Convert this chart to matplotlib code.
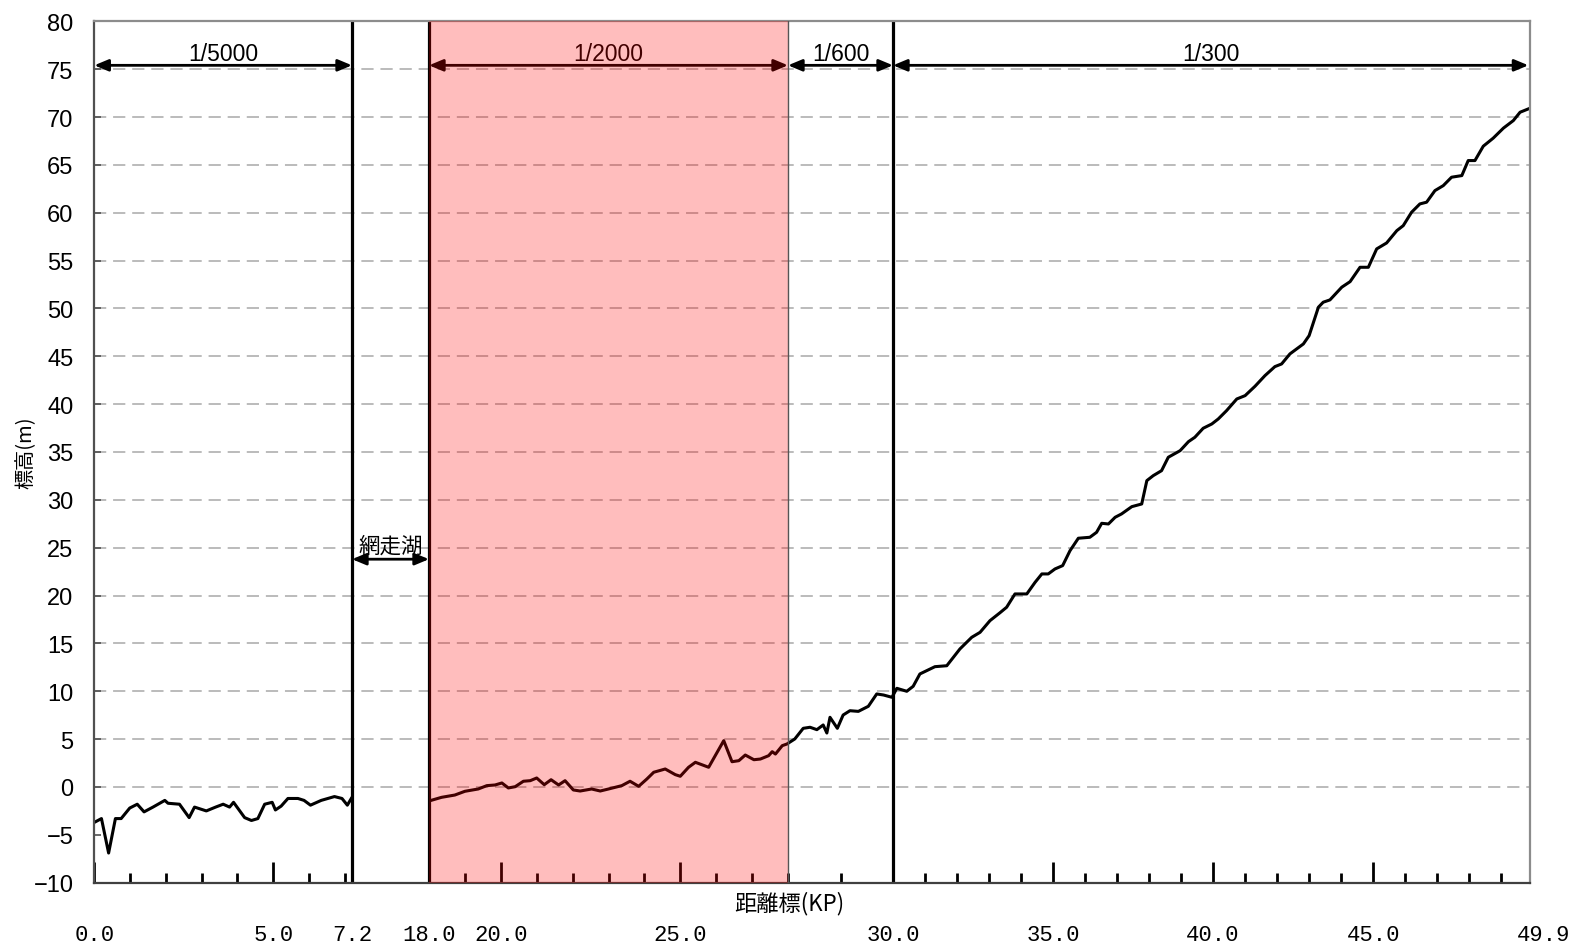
import numpy as np
import matplotlib
matplotlib.use("Agg")
import matplotlib.pyplot as plt
from matplotlib.transforms import ScaledTranslation

# 距離標(KP) と 標高(m) : 網走湖より下流側
KP_LOWER = [0.0, 0.2, 0.4, 0.59, 0.75, 0.99, 1.2, 1.39, 1.64, 1.97, 2.06, 2.38,
            2.65, 2.8, 3.13, 3.39, 3.6, 3.78, 3.89, 4.2, 4.39, 4.57, 4.76, 4.97,
            5.06, 5.22, 5.41, 5.69, 5.86, 6.04, 6.34, 6.71, 6.92, 7.07, 7.18]
Z_LOWER = [-3.7, -3.3, -6.9, -3.3, -3.3, -2.2, -1.8, -2.6, -2.1, -1.4, -1.7, -1.8,
           -3.2, -2.1, -2.5, -2.1, -1.8, -2.1, -1.6, -3.2, -3.5, -3.3, -1.8, -1.6,
           -2.4, -2.0, -1.2, -1.2, -1.4, -1.9, -1.4, -1.0, -1.2, -1.9, -1.2]

# 網走湖より上流側
KP_UPPER = [18.03, 18.35, 18.72, 19.0, 19.37, 19.61, 19.84, 20.03, 20.21, 20.4,
            20.63, 20.82, 21.0, 21.21, 21.4, 21.61, 21.79, 22.02, 22.21, 22.53,
            22.77, 23.0, 23.37, 23.6, 23.84, 24.07, 24.26, 24.58, 24.86, 25.0,
            25.23, 25.42, 25.79, 26.21, 26.44, 26.63, 26.81, 27.05, 27.23, 27.46,
            27.56, 27.65, 27.84, 27.97, 28.13, 28.29, 28.42, 28.55, 28.67, 28.74,
            28.8, 28.94, 29.05, 29.18, 29.34, 29.53, 29.69, 29.82, 29.98, 30.12,
            30.43, 30.63, 30.84, 31.05, 31.31, 31.68, 32.09, 32.46, 32.72, 33.03,
            33.34, 33.55, 33.81, 34.18, 34.44, 34.65, 34.85, 35.06, 35.3, 35.53,
            35.79, 36.15, 36.36, 36.52, 36.73, 36.94, 37.14, 37.46, 37.77, 37.93,
            38.13, 38.39, 38.6, 38.97, 39.23, 39.43, 39.69, 39.96, 40.16, 40.42,
            40.74, 41.0, 41.31, 41.62, 41.93, 42.14, 42.4, 42.82, 43.0, 43.29,
            43.44, 43.65, 44.02, 44.28, 44.59, 44.85, 45.11, 45.42, 45.74, 45.94,
            46.2, 46.46, 46.67, 46.93, 47.19, 47.45, 47.77, 47.97, 48.18, 48.44,
            48.75, 49.07, 49.38, 49.59, 49.85]
Z_UPPER = [-1.43, -1.08, -0.84, -0.45, -0.21, 0.14, 0.21, 0.42, -0.1, 0.03,
           0.6, 0.66, 0.94, 0.24, 0.76, 0.21, 0.66, -0.31, -0.42, -0.21,
           -0.42, -0.21, 0.14, 0.6, 0.07, 0.84, 1.54, 1.88, 1.29, 1.12,
           2.06, 2.58, 2.06, 4.84, 2.64, 2.75, 3.34, 2.85, 2.92, 3.27,
           3.69, 3.44, 4.32, 4.49, 5.02, 6.13, 6.24, 5.99, 6.48, 5.64,
           7.28, 6.13, 7.52, 7.97, 7.9, 8.43, 9.72, 9.61, 9.37, 10.31,
           10.0, 10.52, 11.81, 12.15, 12.57, 12.67, 14.42, 15.64, 16.16, 17.38,
           18.2, 18.78, 20.17, 20.17, 21.39, 22.26, 22.26, 22.78, 23.13, 24.69,
           25.99, 26.09, 26.61, 27.55, 27.48, 28.18, 28.53, 29.29, 29.57, 32.01,
           32.53, 33.05, 34.45, 35.14, 36.08, 36.54, 37.48, 37.93, 38.45, 39.32,
           40.54, 40.89, 41.87, 42.98, 43.92, 44.2, 45.25, 46.29, 47.16, 50.13,
           50.65, 50.89, 52.22, 52.8, 54.3, 54.3, 56.22, 56.84, 58.13, 58.65,
           60.05, 60.92, 61.1, 62.31, 62.83, 63.71, 63.88, 65.45, 65.45, 66.95,
           67.79, 68.84, 69.63, 70.5, 70.85]

# 河床勾配の区間
SLOPE_LABELS = ["1/5000", "1/2000", "1/600", "1/300"]
SLOPE_START = [0.0, 18.0, 28.0, 30.0]
SLOPE_END = [7.2, 28.0, 30.0, 49.85]
LAKE_LABEL = "網走湖"
LAKE_START, LAKE_END = 7.2, 18.0

XTICK_VALUES = [0.0, 5.0, 7.2, 18.0, 20.0, 25.0, 30.0, 35.0, 40.0, 45.0, 49.9]
XTICK_LABELS = ["0.0", "5.0", "7.2", "18.0", "20.0", "25.0", "30.0",
                "35.0", "40.0", "45.0", "49.9"]
GRID_LEVELS = list(range(0, 80, 5))

# 横軸は区間ごとに縮尺が違う（湖の区間は縮める）
KP_BREAKS = [0.0, 7.2, 18.0, 28.0, 30.0, 49.9]
POS_BREAKS = [94.3, 352.0, 429.0, 788.0, 893.0, 1530.0]


def kp_to_pos(x):
    return np.interp(x, KP_BREAKS, POS_BREAKS)


def pos_to_kp(u):
    return np.interp(u, POS_BREAKS, KP_BREAKS)


JP = ["Noto Sans CJK JP", "DejaVu Sans"]
SANS = ["Liberation Sans", "DejaVu Sans"]
MONO = ["Liberation Mono", "DejaVu Sans Mono"]

W, H = 1574, 945
fig = plt.figure(figsize=(W / 100, H / 100), dpi=100)
ax = fig.add_axes([94.3 / W, (H - 883.7) / H, (1530 - 94.3) / W, (883.7 - 22.3) / H])
ax.set_xscale("function", functions=(kp_to_pos, pos_to_kp))
ax.set_xlim(0, 49.9)
ax.set_ylim(-10, 80)

# 破線の補助線
ax.hlines(GRID_LEVELS, 0, 49.9, colors="#a8a8a8", linewidth=1.1,
          linestyles=(0, (8, 4.5)), zorder=1)

# 縦断図
ax.plot(KP_LOWER, Z_LOWER, color="black", linewidth=2.2, zorder=2)
ax.plot(KP_UPPER, Z_UPPER, color="black", linewidth=2.2, zorder=2)

# 区切り線
for kp in [7.2, 18.0, 30.0]:
    ax.axvline(kp, color="black", linewidth=2.3, zorder=2)
ax.axvline(28.0, color="#555555", linewidth=1.0, zorder=4)

# 勾配区間の矢印とラベル
arrow_style = dict(arrowstyle="<|-|>,head_length=0.6,head_width=0.25",
                   color="black", linewidth=2.0, mutation_scale=14,
                   shrinkA=0, shrinkB=0)
for label, x0, x1 in zip(SLOPE_LABELS, SLOPE_START, SLOPE_END):
    ax.annotate("", xy=(x1, 75.4), xytext=(x0, 75.4), arrowprops=arrow_style, zorder=2)
    mid = pos_to_kp((kp_to_pos(x0) + kp_to_pos(x1)) / 2)
    ax.text(mid, 76.6, label, ha="center", va="center", fontsize=16.5,
            family=SANS, zorder=2)

ax.annotate("", xy=(LAKE_END, 23.8), xytext=(LAKE_START, 23.8),
            arrowprops=arrow_style, zorder=2)
lake_mid = pos_to_kp((kp_to_pos(LAKE_START) + kp_to_pos(LAKE_END)) / 2)
ax.text(lake_mid, 25.2, LAKE_LABEL, ha="center", va="center", fontsize=15.5,
        family=JP, zorder=2)

# 勾配 1/2000 区間の網掛け
ax.axvspan(18.0, 28.0, color="red", alpha=0.26, linewidth=0, zorder=3)

# 軸まわり
for side in ["top", "right"]:
    ax.spines[side].set_color("#8c8c8c")
    ax.spines[side].set_linewidth(1.6)
ax.spines["left"].set_color("#505050")
ax.spines["left"].set_linewidth(1.6)
ax.spines["bottom"].set_color("#404040")
ax.spines["bottom"].set_linewidth(1.6)

ax.set_yticks(range(-10, 81, 5))
ax.tick_params(axis="y", direction="in", length=5, width=1.2, color="#505050",
               pad=15, labelsize=17)
for lab in ax.get_yticklabels():
    lab.set_family(SANS)

major_x = [0, 5, 20, 25, 30, 35, 40, 45]
minor_x = [k for k in range(1, 50) if k not in major_x and not (7 < k < 18)]
ax.set_xticks(major_x)
ax.set_xticks(minor_x, minor=True)
ax.tick_params(axis="x", which="major", direction="in", length=15, width=2.0,
               color="black", labelbottom=False)
ax.tick_params(axis="x", which="minor", direction="in", length=7.5, width=2.0,
               color="black", labelbottom=False)

label_trans = ax.get_xaxis_transform()
last_trans = label_trans + ScaledTranslation(-0.13, 0, fig.dpi_scale_trans)
for kp, label in zip(XTICK_VALUES, XTICK_LABELS):
    last = kp == XTICK_VALUES[-1]
    ax.text(kp, -0.06, label, transform=last_trans if last else label_trans,
            ha="left" if last else "center", va="center",
            fontsize=16, family=MONO)

ax.set_xlabel("距離標(KP)", family=JP, fontsize=16)
ax.xaxis.set_label_coords(0.484, -0.009)
ax.set_ylabel("標高(m)", family=JP, fontsize=14.5)
ax.yaxis.set_label_coords(-0.040, 0.5)

fig.savefig("out.png", dpi=100)
